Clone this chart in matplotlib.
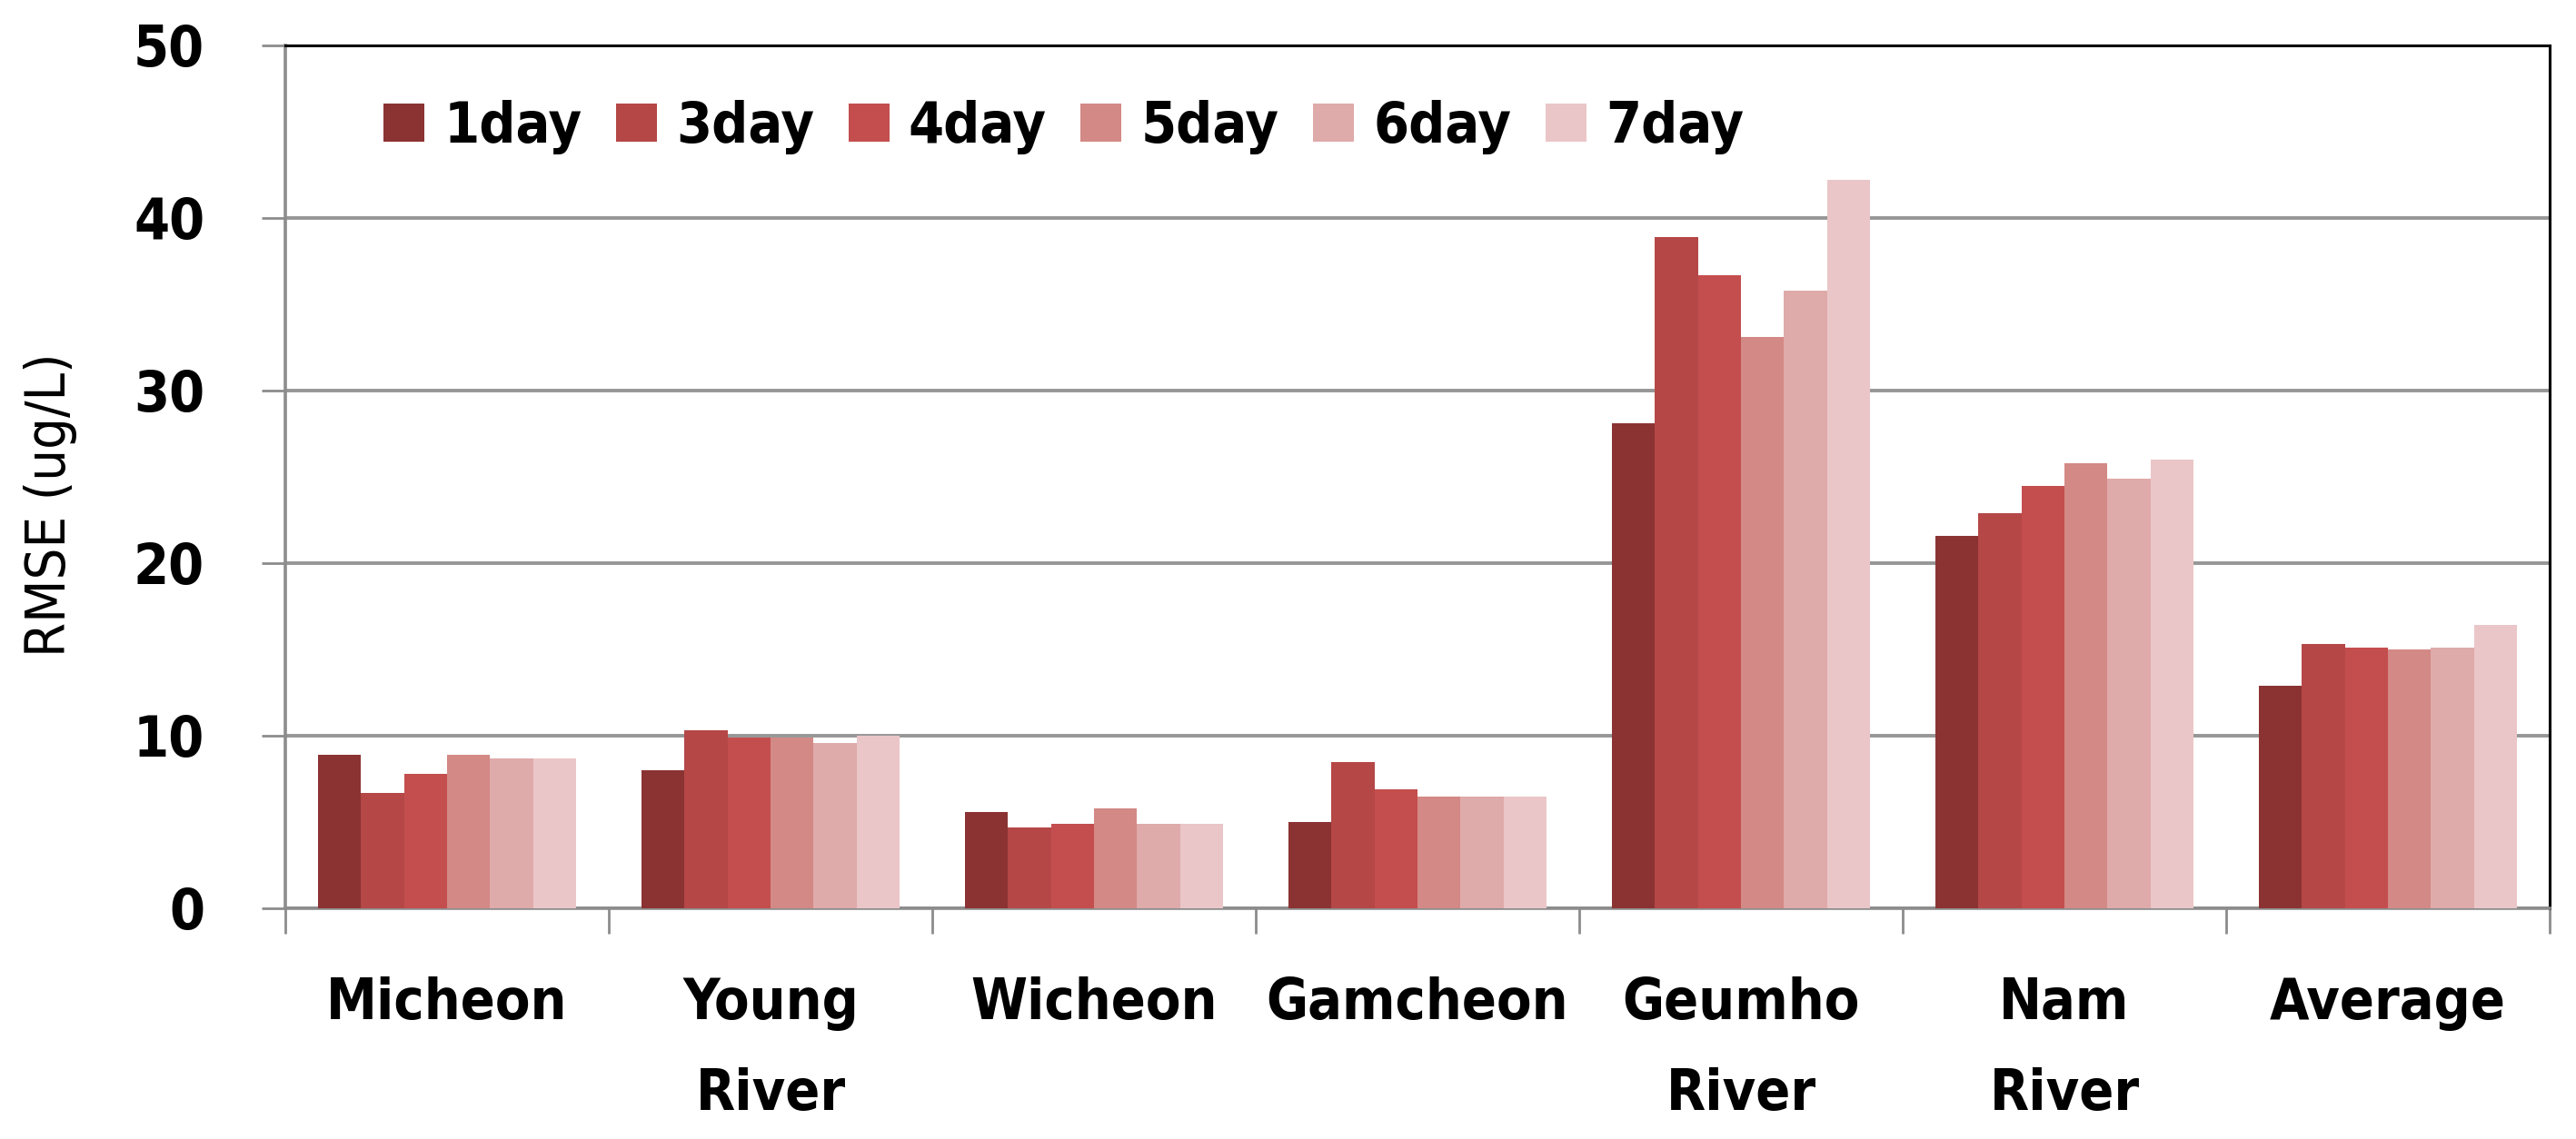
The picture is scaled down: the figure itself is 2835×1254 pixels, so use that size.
import numpy as np
import matplotlib
matplotlib.use("Agg")
import matplotlib.pyplot as plt
from matplotlib.ticker import FixedLocator

# ---- data ----
categories = ["Micheon", "Young\nRiver", "Wicheon", "Gamcheon", "Geumho\nRiver", "Nam\nRiver", "Average"]
series_names = ["1day", "3day", "4day", "5day", "6day", "7day"]
day1 = [8.9, 8.0, 5.6, 5.0, 28.1, 21.6, 12.9]
day3 = [6.7, 10.3, 4.7, 8.5, 38.9, 22.9, 15.3]
day4 = [7.8, 9.9, 4.9, 6.9, 36.7, 24.5, 15.1]
day5 = [8.9, 9.9, 5.8, 6.5, 33.1, 25.8, 15.0]
day6 = [8.7, 9.6, 4.9, 6.5, 35.8, 24.9, 15.1]
day7 = [8.7, 10.0, 4.9, 6.5, 42.2, 26.0, 16.4]
series = [day1, day3, day4, day5, day6, day7]
colors = ["#8b3333", "#b54747", "#c44e4e", "#d38985", "#dfaaaa", "#eac6c8"]
yticks = [0, 10, 20, 30, 40, 50]

FONT = "DejaVu Sans"
plt.rcParams["font.family"] = [FONT]

fig = plt.figure(figsize=(28.35, 12.54), dpi=100)
ax = fig.add_axes([314 / 2835, 1 - 1000 / 1254, (2806 - 314) / 2835, 950 / 1254])

n = len(series)
x = np.arange(len(categories))
group = 0.8
w = group / n
for i, (vals, col, name) in enumerate(zip(series, colors, series_names)):
    offs = -group / 2 + w * (i + 0.5)
    ax.bar(x + offs, vals, width=w, color=col, label=name, zorder=3, linewidth=0)

ax.set_xlim(-0.5, len(categories) - 0.5)
ax.set_ylim(0, 50)
ax.yaxis.grid(True, color="#969696", linewidth=2.8, zorder=0)
ax.set_axisbelow(True)

tick_font = dict(family=FONT, weight="bold", size=45, stretch="condensed")
ax.set_yticks(yticks)
ax.set_yticklabels([str(t) for t in yticks], fontdict=tick_font)
ax.tick_params(axis="y", direction="out", length=19, width=2.0, color="#8c8c8c", pad=45)

ax.set_xticks(x)
ax.set_xticklabels(categories, fontdict=tick_font, linespacing=1.85)
ax.tick_params(axis="x", which="major", length=0, pad=54)
ax.xaxis.set_minor_locator(FixedLocator(np.arange(-0.5, len(categories), 1.0)))
ax.tick_params(axis="x", which="minor", direction="out", length=20, width=2.0, color="#8c8c8c")

for s in ["left", "bottom"]:
    ax.spines[s].set_color("#8c8c8c")
    ax.spines[s].set_linewidth(2.6)
for s in ["top", "right"]:
    ax.spines[s].set_color("black")
    ax.spines[s].set_linewidth(2.2)

fig.text(56 / 2835, 1 - 556 / 1254, "RMSE (ug/L)", rotation=90, ha="center", va="center",
         family=FONT, size=44, stretch="condensed")

leg = ax.legend(loc="center left", bbox_to_anchor=((422 - 314) / 2492, (1000 - 140) / 950),
                ncol=6, frameon=False, prop=dict(family=FONT, weight="bold", size=45, stretch="condensed"),
                handlelength=0.72, handleheight=0.66, handletextpad=0.34, columnspacing=0.6,
                borderpad=0, borderaxespad=0)

fig.savefig("out.png", dpi=100)
